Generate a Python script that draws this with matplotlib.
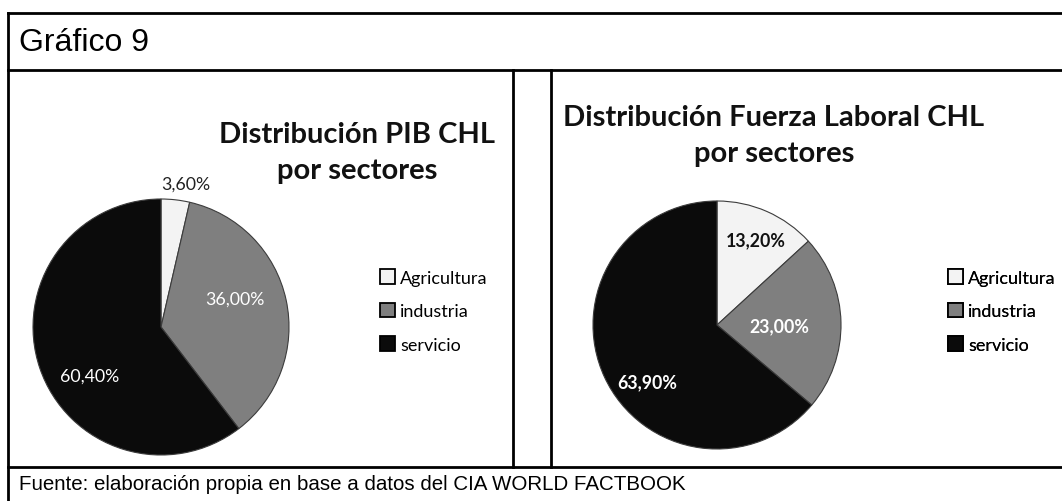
import matplotlib
matplotlib.use('Agg')
import matplotlib.pyplot as plt
from matplotlib.patches import Patch

W, H = 1062, 502

# ---- data ----
sectores = ['Agricultura', 'industria', 'servicio']
pib = [3.6, 36.0, 60.4]
fuerza = [13.2, 23.0, 63.9]
titulo_pib = 'Distribución PIB CHL\npor sectores'
titulo_fuerza = 'Distribución Fuerza Laboral CHL\npor sectores'
encabezado = 'Gráfico 9'
fuente = 'Fuente: elaboración propia en base a datos del CIA WORLD FACTBOOK'

colores = ['#f3f3f3', '#7f7f7f', '#0b0b0b']
CAL = ['Lato', 'DejaVu Sans']
ARIAL = ['Liberation Sans', 'DejaVu Sans']

fig = plt.figure(figsize=(W / 100, H / 100), dpi=100)
bg = fig.add_axes([0, 0, 1, 1])
bg.set_xlim(0, W)
bg.set_ylim(H, 0)
bg.axis('off')

lw = 2.0
kw = dict(color='black', lw=lw, solid_capstyle='projecting')
for y in (14, 71, 468):
    bg.plot([8, W + 5], [y, y], **kw)
bg.plot([8, 8], [14, H + 5], **kw)
for x in (513, 551):
    bg.plot([x, x], [71, 468], **kw)

bg.text(19, 43, encabezado, fontsize=23, family=ARIAL, va='center', ha='left')
bg.text(19, 485, fuente, fontsize=14.8, family=ARIAL, va='center', ha='left')


def fmt(v):
    return f'{v:.2f}%'.replace('.', ',')


def pie_at(cx, cy, r, vals, label_pos, label_colors, weight, title, tx, ty, lx):
    ax = fig.add_axes([(cx - r) / W, (H - cy - r) / H, 2 * r / W, 2 * r / H])
    wedges, _ = ax.pie(vals, colors=colores, startangle=90, counterclock=False,
                       radius=1,
                       wedgeprops=dict(edgecolor='#3c3c3c', linewidth=0.8))
    for w in wedges:
        w.set_clip_on(False)
    ax.set_xlim(-1, 1)
    ax.set_ylim(-1, 1)
    for v, (px, py), c in zip(vals, label_pos, label_colors):
        ax.text(px, py, fmt(v), ha='center', va='center', color=c,
                fontsize=12.8, family=CAL, weight=weight)
    bg.text(tx, ty, title, ha='center', va='center', fontsize=21,
            family=CAL, weight='bold', linespacing=1.5, color='#111111')
    handles = [Patch(facecolor=c, edgecolor='black', linewidth=1.3) for c in colores]
    leg = bg.legend(handles, sectores, loc='center left', bbox_to_anchor=(lx, 312),
                    bbox_transform=bg.transData, frameon=False,
                    prop=dict(family=CAL, size=13), handlelength=0.85, handleheight=0.85,
                    handletextpad=0.25, labelspacing=0.95, borderpad=0, borderaxespad=0)
    bg.add_artist(leg)


pie_at(161, 328, 128, pib,
       [(0.19, 1.12), (0.58, 0.22), (-0.56, -0.38)],
       ['#222222', 'white', 'white'], 'normal', titulo_pib, 357, 153, 380)

pie_at(717, 326, 124, fuerza,
       [(0.31, 0.69), (0.50, -0.01), (-0.56, -0.46)],
       ['#111111', 'white', 'white'], 'bold', titulo_fuerza, 774, 136, 948)

fig.savefig('out.png', dpi=100)
